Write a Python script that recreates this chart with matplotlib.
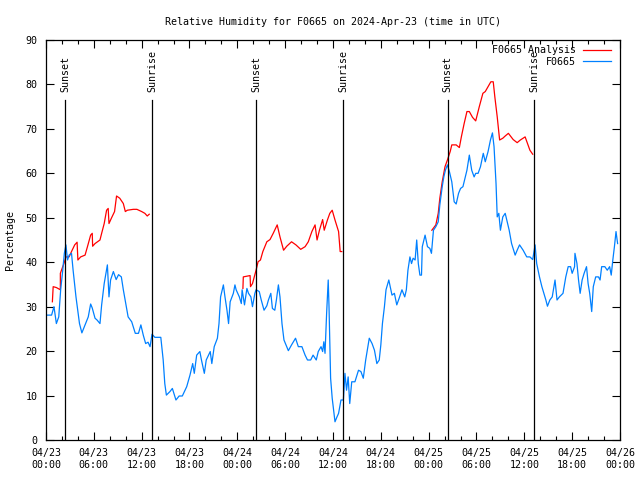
import matplotlib
matplotlib.use('Agg')
import matplotlib.pyplot as plt
import matplotlib.dates as mdates
import numpy as np
import pandas as pd

# hours after 2024-04-23 00:00 UTC
obs_hours = [0.2, 0.7, 1.0, 1.3, 1.6, 1.84, 2.1, 2.3, 2.5, 2.7, 2.9, 3.2, 3.4, 3.76, 4.2, 4.5,
             4.9, 5.3, 5.6, 5.8, 6.15, 6.4, 6.77, 6.98, 7.3, 7.7, 7.9, 8.1, 8.45, 8.8, 9.1, 9.45,
             9.7, 10.0, 10.3, 10.75, 11.2, 11.6, 11.9, 12.2, 12.5, 12.8, 13.05, 13.3, 13.65, 14.4,
             14.7, 14.9, 15.1, 15.55, 15.85, 16.3, 16.7, 17.1, 17.65, 18.06, 18.4, 18.6, 18.9, 19.3,
             19.5, 19.86, 20.1, 20.6, 20.8, 21.1, 21.5, 21.7, 21.9, 22.25, 22.45, 22.7, 22.9, 23.1,
             23.5, 23.7, 23.85, 24.25, 24.5, 24.6, 24.9, 25.2, 25.4, 25.7, 25.9, 26.2, 26.35, 26.75,
             27.0, 27.35, 27.7, 27.9, 28.2, 28.4, 28.7, 28.9, 29.15, 29.35, 29.6, 29.85, 30.2, 30.4,
             30.8, 31.3, 31.65, 32.1, 32.5, 32.8, 33.2, 33.5, 33.9, 34.15, 34.5, 34.7, 34.85, 35.0,
             35.2, 35.4, 35.5, 35.7, 35.9, 36.25, 36.5, 36.7, 37.0, 37.3, 37.5, 37.7, 37.9, 38.1,
             38.35, 38.75, 39.2, 39.5, 39.8, 40.1, 40.3, 40.55, 40.9, 41.2, 41.5, 41.8, 42.0, 42.2,
             42.45, 42.65, 43.0, 43.4, 43.7, 44.0, 44.3, 44.65, 45.0, 45.2, 45.4, 45.65, 45.85, 46.05,
             46.3, 46.5, 46.7, 46.9, 47.1, 47.2, 47.55, 47.85, 48.15, 48.35, 48.6, 48.9, 49.2, 49.4,
             49.7, 49.9, 50.1, 50.35, 50.6, 50.9, 51.2, 51.45, 51.75, 52.0, 52.3, 52.5, 52.8, 53.1,
             53.4, 53.7, 53.9, 54.2, 54.5, 54.85, 55.1, 55.45, 55.75, 56.0, 56.2, 56.45, 56.6, 56.8,
             57.0, 57.3, 57.6, 57.9, 58.1, 58.4, 58.85, 59.1, 59.4, 59.85, 60.3, 60.7, 61.05, 61.35,
             61.55, 61.9, 62.2, 62.45, 62.7, 62.9, 63.2, 63.5, 63.85, 64.1, 64.4, 64.85, 65.2, 65.5,
             65.8, 66.0, 66.3, 66.35, 66.6, 66.8, 67.0, 67.25, 67.5, 67.8, 68.0, 68.2, 68.45, 68.65,
             68.95, 69.3, 69.5, 69.7, 70.1, 70.4, 70.7, 70.9, 71.1, 71.3, 71.5, 71.7]
obs_values = [28.1, 28.1, 30.0, 26.2, 27.7, 33.8, 38.2, 42.0, 43.9, 40.5, 41.6, 42.0, 38.2, 32.2, 26.2, 24.1,
              25.9, 27.7, 30.6, 29.7, 27.4, 27.0, 26.2, 30.4, 35.2, 39.4, 32.2, 36.0, 37.9, 36.1, 37.2, 36.7,
              33.8, 30.7, 27.7, 26.6, 24.0, 24.0, 25.9, 23.6, 21.7, 22.0, 21.0, 23.8, 23.1, 23.1,
              18.0, 12.7, 10.1, 10.9, 11.6, 9.0, 9.9, 9.9, 12.0, 14.6, 17.2, 15.0, 19.1, 19.9,
              18.0, 15.0, 18.0, 19.9, 17.2, 21.0, 22.9, 26.2, 32.2, 34.9, 32.2, 29.2, 26.2, 31.1,
              33.0, 34.9, 33.8, 32.2, 30.7, 33.8, 30.4, 34.1, 33.0, 32.2, 30.0, 33.0, 33.8, 33.4,
              31.5, 29.2, 30.2, 31.5, 33.0, 29.6, 29.2, 31.5, 34.9, 32.2, 26.2, 22.5, 21.0, 20.1,
              21.4, 22.9, 21.0, 21.0, 19.1, 18.0, 18.0, 19.1, 18.0, 19.9, 21.0, 19.9, 22.1, 19.5,
              28.5, 36.0, 30.0, 13.9, 9.4, 4.1, 5.2, 6.0, 9.0, 9.0, 15.0, 11.2, 14.2, 8.2,
              13.1, 13.1, 15.7, 15.4, 13.9, 18.0, 20.2, 22.9, 21.7, 20.2, 17.2, 18.0, 21.4, 26.2,
              30.0, 33.8, 36.0, 32.6, 33.0, 30.4, 31.9, 33.8, 32.2, 33.8, 38.2, 41.2, 39.7, 40.9,
              40.5, 45.0, 39.7, 37.1, 37.1, 43.5, 46.1, 43.5, 43.1, 42.0, 47.2, 48.0, 49.1, 52.9,
              57.0, 59.2, 60.7, 61.9, 60.4, 58.1, 53.6, 53.1, 55.5, 56.6, 57.0, 58.5, 60.7, 64.1,
              60.7, 59.2, 60.0, 60.0, 61.5, 64.5, 62.6, 64.9, 67.5, 69.1, 66.0, 57.7, 50.2, 51.0,
              47.2, 50.2, 51.0, 48.7, 47.2, 44.2, 41.6, 42.7, 43.9, 42.7, 41.2, 41.2, 40.6, 43.9,
              39.7, 36.7, 34.5, 33.0, 31.5, 30.1, 31.5, 32.2, 36.0, 31.5, 32.2, 33.0, 36.7, 39.0,
              39.0, 37.5, 39.0, 42.0, 39.7, 36.0, 33.0, 36.0, 37.5, 39.0, 35.2, 33.0, 28.9, 34.5,
              36.7, 36.7, 36.0, 39.0, 39.0, 38.2, 39.0, 37.1, 40.5, 43.5, 46.9, 44.2]

# analysis series, nan marks the gaps between the daily runs
ana_hours = [0.8, 0.9, 1.3, 1.8, 1.8, 2.1, 2.25, 2.5, 2.9, 3.2, 3.6, 3.9, 4.0, 4.35, 4.9, 5.2,
             5.6, 5.8, 5.85, 6.15, 6.77, 6.98, 7.3, 7.6, 7.8, 7.9, 8.2, 8.6, 8.85, 9.25, 9.7, 9.95,
             10.2, 10.95, 11.4, 12.0, 12.4, 12.7, 12.95,
             18.0,
             24.7, 24.75, 25.6, 25.65, 25.9, 26.35, 26.6, 26.9, 27.2, 27.7, 28.1, 28.5, 29.0, 29.35,
             29.8, 30.2, 30.8, 31.35, 31.95, 32.5, 32.9, 33.35, 33.75, 34.0, 34.3, 34.7, 34.9, 35.3,
             35.6, 35.9, 36.25, 36.7, 36.9, 37.1,
             42.0,
             48.4, 48.9, 49.2, 49.4, 49.7, 50.05, 50.35, 50.7, 50.9, 51.45, 51.85, 52.1, 52.45, 52.8,
             53.1, 53.5, 53.9, 54.35, 54.8, 55.1, 55.45, 55.8, 56.1, 56.3, 56.6, 56.9, 57.3, 57.6,
             58.0, 58.6, 59.1, 59.5, 60.1, 60.4, 60.7, 61.05]
ana_values = [31.1, 34.5, 34.3, 33.8, 37.5, 39.0, 39.7, 41.2, 41.2, 42.4, 43.9, 44.5, 40.5, 41.2, 41.6, 43.5,
              46.1, 46.5, 43.6, 44.2, 45.0, 46.5, 48.7, 51.7, 52.1, 48.7, 49.9, 51.4, 54.9, 54.4, 53.2, 51.4,
              51.7, 51.9, 51.9, 51.4, 51.0, 50.4, 50.8,
              np.nan,
              34.1, 36.7, 37.0, 34.5, 35.2, 38.2, 40.1, 40.5, 42.4, 44.6, 45.1, 46.5, 48.4, 45.7,
              42.7, 43.6, 44.6, 43.9, 42.9, 43.5, 44.6, 46.9, 48.4, 45.0, 47.2, 49.6, 47.2, 49.5,
              51.0, 51.7, 49.5, 46.9, 42.4, 42.4,
              np.nan,
              47.2, 48.4, 51.0, 54.4, 58.1, 61.5, 63.0, 64.9, 66.4, 66.4, 65.8, 68.2, 71.2, 73.9,
              73.9, 72.6, 71.8, 75.0, 78.0, 78.4, 79.5, 80.6, 80.6, 77.2, 72.7, 67.5, 67.9, 68.4,
              69.0, 67.6, 66.9, 67.5, 68.2, 66.7, 65.2, 64.3]

sun_hours = [2.38, 13.3, 26.35, 37.3, 50.4, 61.2]
sun_labels = ['Sunset', 'Sunrise', 'Sunset', 'Sunrise', 'Sunset', 'Sunrise']

base = pd.Timestamp('2024-04-23 00:00')
def to_time(h):
    return base + pd.to_timedelta(np.array(h, dtype=float), unit='h')

plt.rcParams['font.family'] = 'DejaVu Sans Mono'
plt.rcParams['font.size'] = 7.2

fig = plt.figure(figsize=(6.4, 4.8), dpi=100)
ax = fig.add_axes([46 / 640, 40 / 480, 574 / 640, 400 / 480])

ax.plot(to_time(ana_hours), ana_values, color='#ff0000', lw=0.9, label='F0665 Analysis')
ax.plot(to_time(obs_hours), obs_values, color='#0080ff', lw=0.9, label='F0665')

for h, lab in zip(sun_hours, sun_labels):
    t = to_time([h])[0]
    ax.plot([t, t], [0, 76.5], color='black', lw=0.9)
    ax.text(t, 78.2, lab, rotation=90, ha='center', va='bottom', fontsize=7.2)

ax.set_xlim(base, base + pd.Timedelta(hours=72))
ax.set_ylim(0, 90)
ax.set_yticks(range(0, 91, 10))
ax.xaxis.set_major_locator(mdates.HourLocator(byhour=[0, 6, 12, 18]))
ax.xaxis.set_minor_locator(mdates.HourLocator(interval=2))
ax.xaxis.set_major_formatter(mdates.DateFormatter('%m/%d\n%H:%M'))
ax.tick_params(which='both', direction='in', top=True, right=True, width=0.8)
ax.tick_params(which='major', length=6, pad=6)
ax.tick_params(which='minor', length=3)
for s in ax.spines.values():
    s.set_linewidth(0.9)

ax.set_title('Relative Humidity for F0665 on 2024-Apr-23 (time in UTC)', fontsize=7.2, pad=11)
ax.set_ylabel('Percentage', labelpad=8)

leg = ax.legend(loc='upper right', bbox_to_anchor=(1 - 4 / 574, 1), frameon=False,
                markerfirst=False, handlelength=2.8, borderaxespad=0.15,
                labelspacing=0.15, handletextpad=0.7)

fig.savefig('out.png', dpi=100)
plt.close(fig)
